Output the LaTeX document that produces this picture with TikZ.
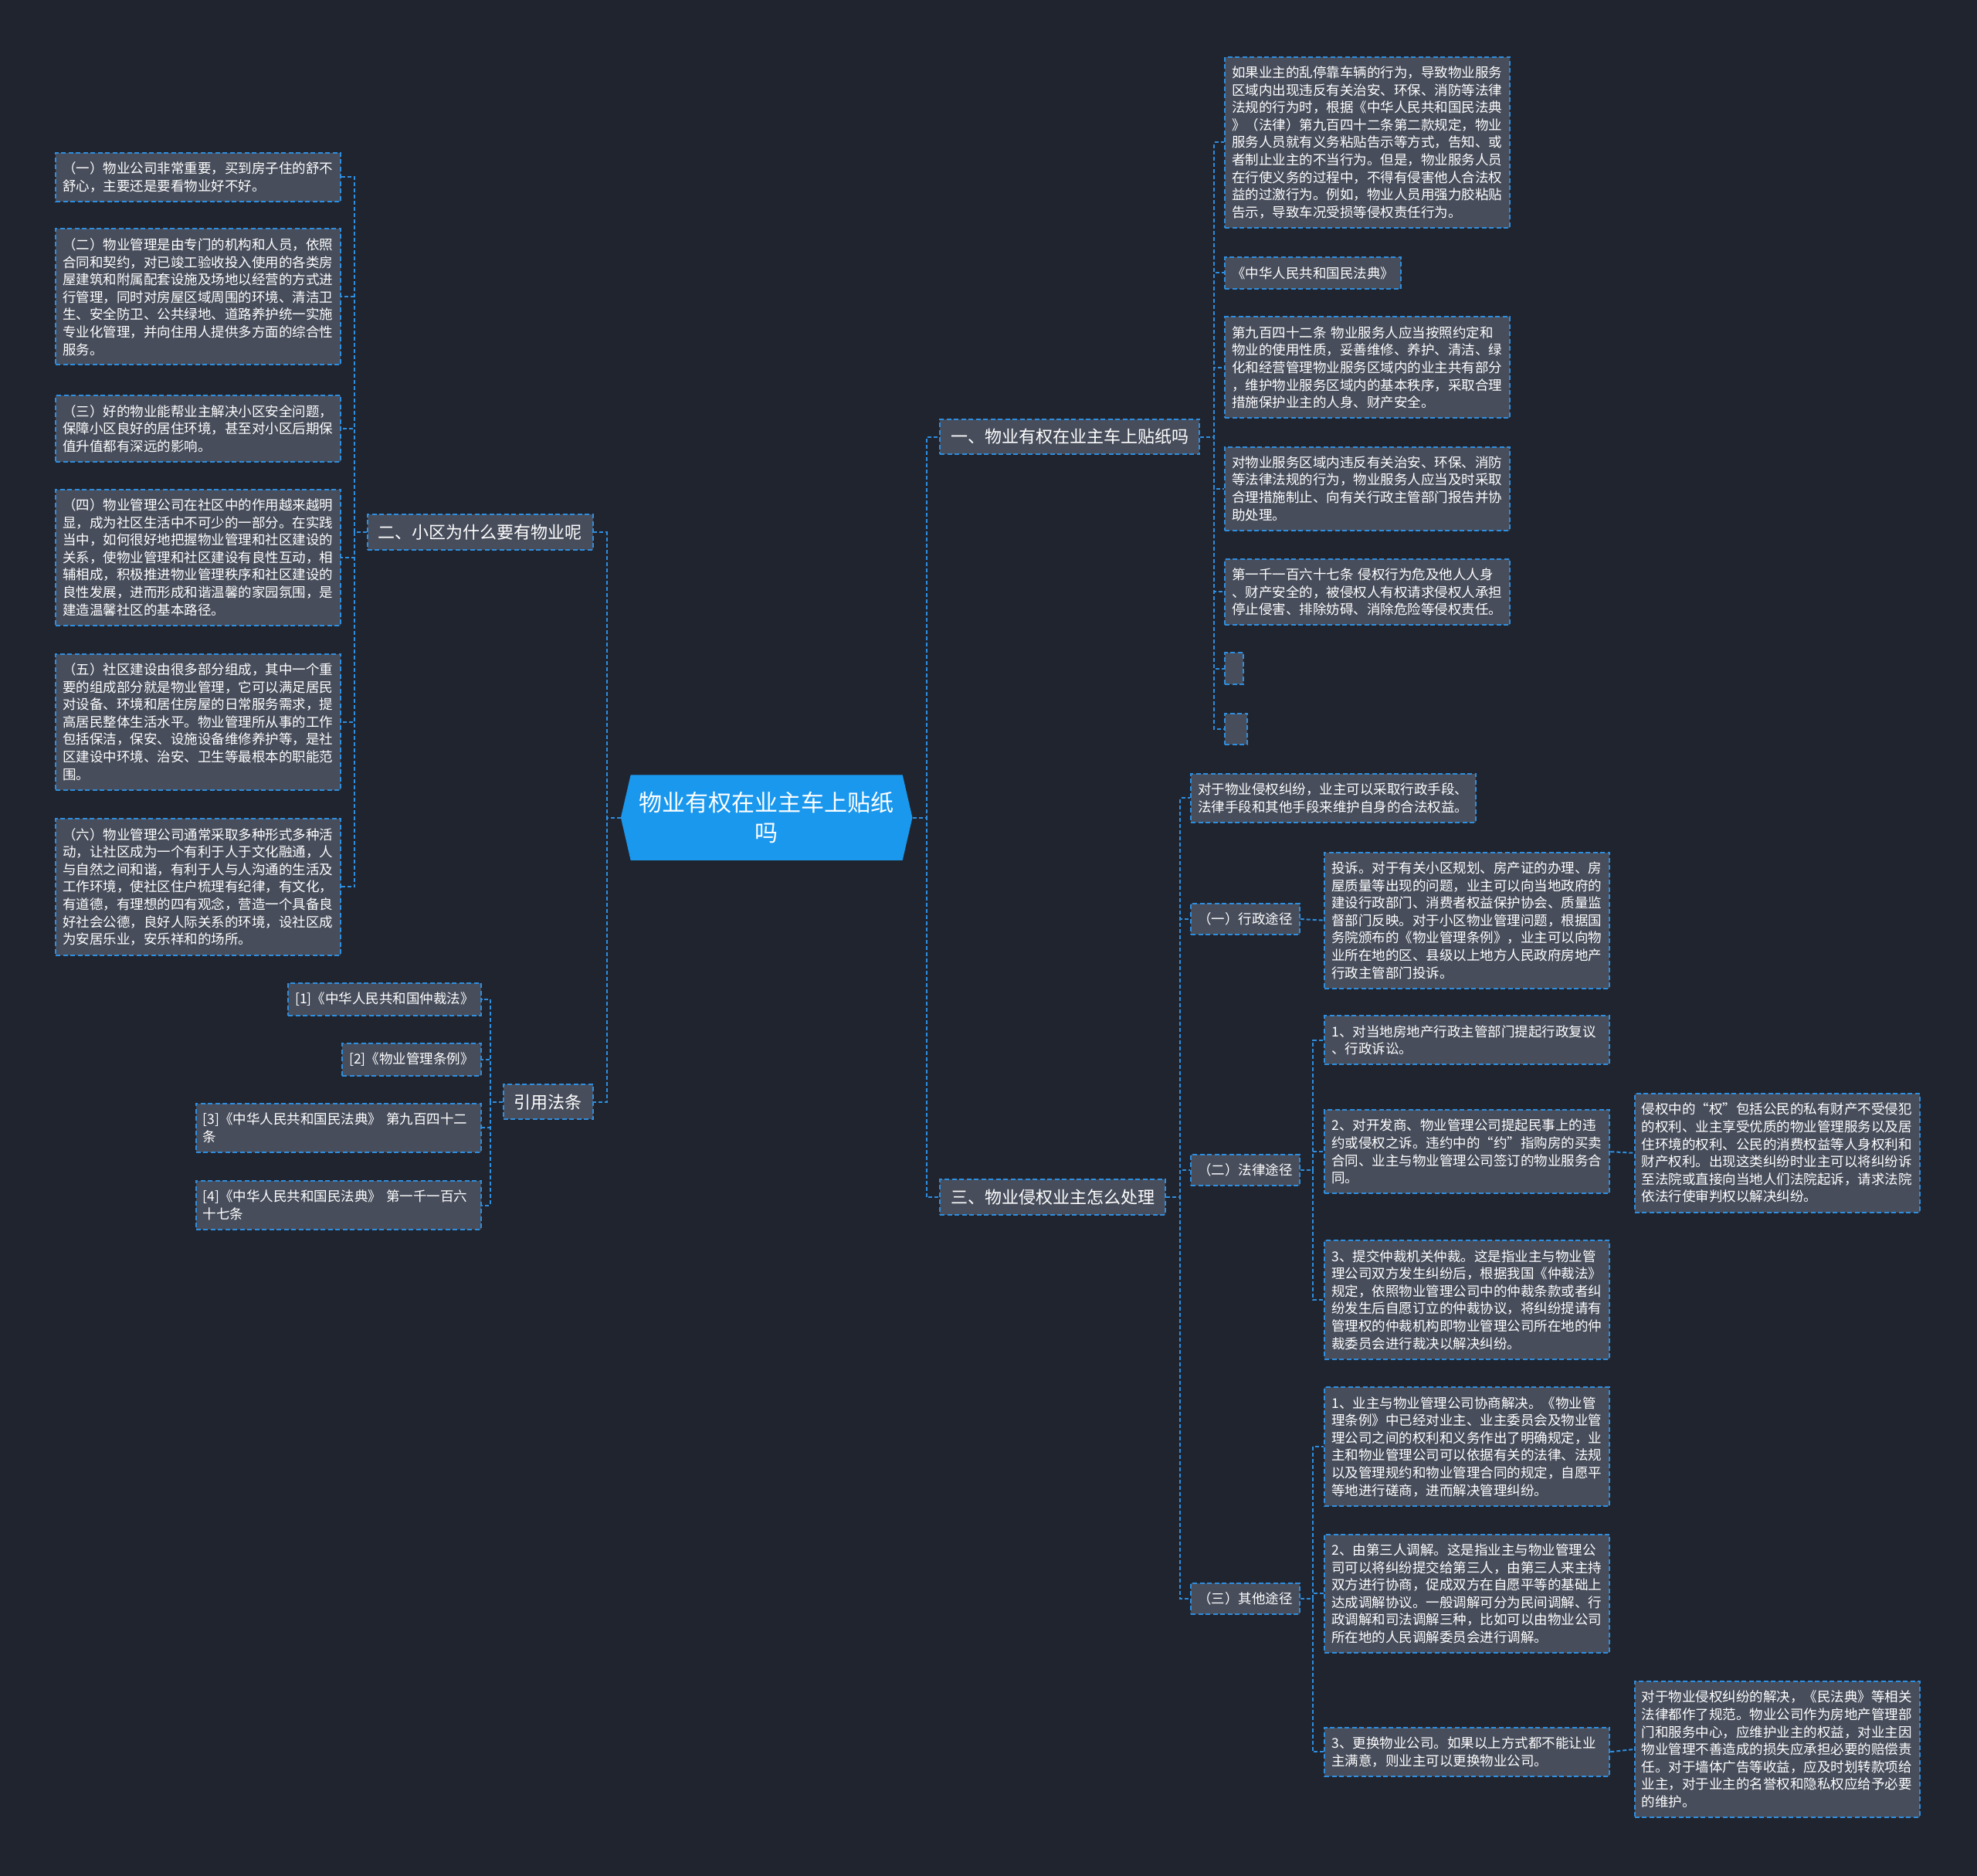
\documentclass[tikz,border=0pt]{standalone}
\usepackage{fontspec}
\setmainfont{Noto Sans CJK SC}
\usepackage{xcolor}
\usepackage{tikz}
\usetikzlibrary{shapes.symbols}

\definecolor{bgc}{HTML}{20242F}
\definecolor{boxc}{HTML}{474D5B}
\definecolor{linec}{HTML}{2E8EDF}
\definecolor{hubc}{HTML}{1A98EE}

\tikzset{
  conn/.style={draw=linec, line width=2pt, dash pattern=on 5pt off 3pt},
  leafbox/.style={draw=linec, line width=2pt, dash pattern=on 6pt off 3.5pt,
    fill=boxc, text=white, font=\fontsize{17.5}{22.6}\selectfont,
    inner xsep=9pt, inner ysep=12pt},
  parabox/.style={leafbox, text width=351pt, align=left},
  topicbox/.style={leafbox, font=\fontsize{22}{28}\selectfont, inner xsep=14pt, inner ysep=12.5pt},
  hubbox/.style={shape=signal, signal to=west and east, signal pointer angle=154,
    fill=hubc, text=white, font=\fontsize{30}{39}\selectfont, align=center,
    inner xsep=11pt, inner ysep=22pt},
}

\begin{document}
\begin{tikzpicture}[x=1.63265pt, y=-1.63239pt]
\fill [bgc] (0,0) rectangle (1568,1488);
\useasboundingbox (0,0) rectangle (1568,1488);

% centre
\node (hub) [hubbox] at (608,648.5) {物业有权在业主车上贴纸\\吗};

% branch one
\node (b1) [topicbox, anchor=west] at (745,346.5) {一、物业有权在业主车上贴纸吗};
\node (b1a) [parabox, anchor=west] at (971,113) {如果业主的乱停靠车辆的行为，导致物业服务\\区域内出现违反有关治安、环保、消防等法律\\法规的行为时，根据《中华人民共和国民法典\\》（法律）第九百四十二条第二款规定，物业\\服务人员就有义务粘贴告示等方式，告知、或\\者制止业主的不当行为。但是，物业服务人员\\在行使义务的过程中，不得有侵害他人合法权\\益的过激行为。例如，物业人员用强力胶粘贴\\告示，导致车况受损等侵权责任行为。};
\node (b1b) [leafbox, anchor=west] at (971,216.5) {《中华人民共和国民法典》};
\node (b1c) [parabox, anchor=west] at (971,291.5) {第九百四十二条 物业服务人应当按照约定和\\物业的使用性质，妥善维修、养护、清洁、绿\\化和经营管理物业服务区域内的业主共有部分\\，维护物业服务区域内的基本秩序，采取合理\\措施保护业主的人身、财产安全。};
\node (b1d) [parabox, anchor=west] at (971,387.5) {对物业服务区域内违反有关治安、环保、消防\\等法律法规的行为，物业服务人应当及时采取\\合理措施制止、向有关行政主管部门报告并协\\助处理。};
\node (b1e) [parabox, anchor=west] at (971,469.5) {第一千一百六十七条 侵权行为危及他人人身\\、财产安全的，被侵权人有权请求侵权人承担\\停止侵害、排除妨碍、消除危险等侵权责任。};
\node (b1f) [leafbox, inner sep=0pt, minimum width=24pt, minimum height=41pt, anchor=west] at (971,530.5) {};
\node (b1g) [leafbox, inner sep=0pt, minimum width=29pt, minimum height=40pt, anchor=west] at (971,578) {};

% branch three
\node (b3) [topicbox, anchor=west] at (745,949.5) {三、物业侵权业主怎么处理};
\node (b3a) [parabox, anchor=west] at (944,633) {对于物业侵权纠纷，业主可以采取行政手段、\\法律手段和其他手段来维护自身的合法权益。};
\node (b3b) [leafbox, anchor=west] at (944,729) {（一）行政途径};
\node (b3bx) [parabox, anchor=west] at (1050,730) {投诉。对于有关小区规划、房产证的办理、房\\屋质量等出现的问题，业主可以向当地政府的\\建设行政部门、消费者权益保护协会、质量监\\督部门反映。对于小区物业管理问题，根据国\\务院颁布的《物业管理条例》，业主可以向物\\业所在地的区、县级以上地方人民政府房地产\\行政主管部门投诉。};
\node (b3c) [leafbox, anchor=west] at (944,928) {（二）法律途径};
\node (c1) [parabox, anchor=west] at (1050,825) {1、对当地房地产行政主管部门提起行政复议\\、行政诉讼。};
\node (c2) [parabox, anchor=west] at (1050,913.5) {2、对开发商、物业管理公司提起民事上的违\\约或侵权之诉。违约中的“约”指购房的买卖\\合同、业主与物业管理公司签订的物业服务合\\同。};
\node (c2x) [parabox, anchor=west] at (1296,914.5) {侵权中的“权”包括公民的私有财产不受侵犯\\的权利、业主享受优质的物业管理服务以及居\\住环境的权利、公民的消费权益等人身权利和\\财产权利。出现这类纠纷时业主可以将纠纷诉\\至法院或直接向当地人们法院起诉，请求法院\\依法行使审判权以解决纠纷。};
\node (c3) [parabox, anchor=west] at (1050,1031) {3、提交仲裁机关仲裁。这是指业主与物业管\\理公司双方发生纠纷后，根据我国《仲裁法》\\规定，依照物业管理公司中的仲裁条款或者纠\\纷发生后自愿订立的仲裁协议，将纠纷提请有\\管理权的仲裁机构即物业管理公司所在地的仲\\裁委员会进行裁决以解决纠纷。};
\node (b3d) [leafbox, anchor=west] at (944,1268) {（三）其他途径};
\node (d1) [parabox, anchor=west] at (1050,1147.5) {1、业主与物业管理公司协商解决。《物业管\\理条例》中已经对业主、业主委员会及物业管\\理公司之间的权利和义务作出了明确规定，业\\主和物业管理公司可以依据有关的法律、法规\\以及管理规约和物业管理合同的规定，自愿平\\等地进行磋商，进而解决管理纠纷。};
\node (d2) [parabox, anchor=west] at (1050,1264) {2、由第三人调解。这是指业主与物业管理公\\司可以将纠纷提交给第三人，由第三人来主持\\双方进行协商，促成双方在自愿平等的基础上\\达成调解协议。一般调解可分为民间调解、行\\政调解和司法调解三种，比如可以由物业公司\\所在地的人民调解委员会进行调解。};
\node (d3) [parabox, anchor=west] at (1050,1389.5) {3、更换物业公司。如果以上方式都不能让业\\主满意，则业主可以更换物业公司。};
\node (d3x) [parabox, anchor=west] at (1296,1387.5) {对于物业侵权纠纷的解决，《民法典》等相关\\法律都作了规范。物业公司作为房地产管理部\\门和服务中心，应维护业主的权益，对业主因\\物业管理不善造成的损失应承担必要的赔偿责\\任。对于墙体广告等收益，应及时划转款项给\\业主，对于业主的名誉权和隐私权应给予必要\\的维护。};

% branch two
\node (b2) [topicbox, anchor=east] at (471,422) {二、小区为什么要有物业呢};
\node (l1) [parabox, anchor=east] at (271,140.5) {（一）物业公司非常重要，买到房子住的舒不\\舒心，主要还是要看物业好不好。};
\node (l2) [parabox, anchor=east] at (271,235.5) {（二）物业管理是由专门的机构和人员，依照\\合同和契约，对已竣工验收投入使用的各类房\\屋建筑和附属配套设施及场地以经营的方式进\\行管理，同时对房屋区域周围的环境、清洁卫\\生、安全防卫、公共绿地、道路养护统一实施\\专业化管理，并向住用人提供多方面的综合性\\服务。};
\node (l3) [parabox, anchor=east] at (271,340) {（三）好的物业能帮业主解决小区安全问题，\\保障小区良好的居住环境，甚至对小区后期保\\值升值都有深远的影响。};
\node (l4) [parabox, anchor=east] at (271,442) {（四）物业管理公司在社区中的作用越来越明\\显，成为社区生活中不可少的一部分。在实践\\当中，如何很好地把握物业管理和社区建设的\\关系，使物业管理和社区建设有良性互动，相\\辅相成，积极推进物业管理秩序和社区建设的\\良性发展，进而形成和谐温馨的家园氛围，是\\建造温馨社区的基本路径。};
\node (l5) [parabox, anchor=east] at (271,572.5) {（五）社区建设由很多部分组成，其中一个重\\要的组成部分就是物业管理，它可以满足居民\\对设备、环境和居住房屋的日常服务需求，提\\高居民整体生活水平。物业管理所从事的工作\\包括保洁，保安、设施设备维修养护等，是社\\区建设中环境、治安、卫生等最根本的职能范\\围。};
\node (l6) [parabox, anchor=east] at (271,703.5) {（六）物业管理公司通常采取多种形式多种活\\动，让社区成为一个有利于人于文化融通，人\\与自然之间和谐，有利于人与人沟通的生活及\\工作环境，使社区住户梳理有纪律，有文化，\\有道德，有理想的四有观念，营造一个具备良\\好社会公德，良好人际关系的环境，设社区成\\为安居乐业，安乐祥和的场所。};

% branch four
\node (b4) [topicbox, anchor=east] at (471,874) {引用法条};
\node (r1) [leafbox, anchor=east] at (382,792.5) {[1]《中华人民共和国仲裁法》};
\node (r2) [leafbox, anchor=east] at (382,840.5) {[2]《物业管理条例》};
\node (r3) [parabox, anchor=east] at (382,894.5) {[3]《中华人民共和国民法典》 第九百四十二\\条};
\node (r4) [parabox, anchor=east] at (382,956) {[4]《中华人民共和国民法典》 第一千一百六\\十七条};

% connectors
\draw [conn] (hub.east) -- ++(11,0) |- (b1.west);
\draw [conn] (hub.east) -- ++(11,0) |- (b3.west);
\draw [conn] (hub.west) -- ++(-11,0) |- (b2.east);
\draw [conn] (hub.west) -- ++(-11,0) |- (b4.east);
\draw [conn] (b1.east) -- ++(11,0) |- (b1a.west);
\draw [conn] (b1.east) -- ++(11,0) |- (b1b.west);
\draw [conn] (b1.east) -- ++(11,0) |- (b1c.west);
\draw [conn] (b1.east) -- ++(11,0) |- (b1d.west);
\draw [conn] (b1.east) -- ++(11,0) |- (b1e.west);
\draw [conn] (b1.east) -- ++(11,0) |- (b1f.west);
\draw [conn] (b1.east) -- ++(11,0) |- (b1g.west);
\draw [conn] (b3.east) -- ++(11,0) |- (b3a.west);
\draw [conn] (b3.east) -- ++(11,0) |- (b3b.west);
\draw [conn] (b3.east) -- ++(11,0) |- (b3c.west);
\draw [conn] (b3.east) -- ++(11,0) |- (b3d.west);
\draw [conn] (b3b.east) -- (b3bx.west);
\draw [conn] (b3c.east) -- ++(10,0) |- (c1.west);
\draw [conn] (b3c.east) -- ++(10,0) |- (c2.west);
\draw [conn] (b3c.east) -- ++(10,0) |- (c3.west);
\draw [conn] (c2.east) -- (c2x.west);
\draw [conn] (b3d.east) -- ++(10,0) |- (d1.west);
\draw [conn] (b3d.east) -- ++(10,0) |- (d2.west);
\draw [conn] (b3d.east) -- ++(10,0) |- (d3.west);
\draw [conn] (d3.east) -- (d3x.west);
\draw [conn] (b2.west) -- ++(-10,0) |- (l1.east);
\draw [conn] (b2.west) -- ++(-10,0) |- (l2.east);
\draw [conn] (b2.west) -- ++(-10,0) |- (l3.east);
\draw [conn] (b2.west) -- ++(-10,0) |- (l4.east);
\draw [conn] (b2.west) -- ++(-10,0) |- (l5.east);
\draw [conn] (b2.west) -- ++(-10,0) |- (l6.east);
\draw [conn] (b4.west) -- ++(-10,0) |- (r1.east);
\draw [conn] (b4.west) -- ++(-10,0) |- (r2.east);
\draw [conn] (b4.west) -- ++(-10,0) |- (r3.east);
\draw [conn] (b4.west) -- ++(-10,0) |- (r4.east);
\end{tikzpicture}
\end{document}
